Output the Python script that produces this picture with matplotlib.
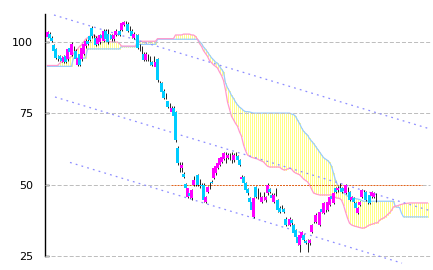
import numpy as np
import matplotlib
matplotlib.use('Agg')
import matplotlib.pyplot as plt

plt.rcParams['lines.scale_dashes'] = False
plt.rcParams['font.family'] = ['DejaVu Sans']

# candles (one per period)
opens = [101.8, 103, 101.5, 99, 97.5, 94.4, 95, 94.5, 93, 95,
         94, 98, 95.5, 97.4, 97, 92, 96, 94, 96, 98.5,
         100.5, 102, 105, 101.9, 101.5, 99.5, 100, 102.5, 100.5, 104,
         103, 101.9, 102.5, 101, 102.5, 103.1, 104, 104.2, 106, 106.4,
         106.5, 104.4, 104, 101.5, 101.9, 102.5, 98.4, 97.4, 96, 93.7,
         94.9, 93.9, 93, 92.9, 91.3, 94, 85.9, 85.6, 83, 80.9,
         79.3, 77.4, 75.5, 77, 75.5, 63, 56.9, 56, 53.8, 50.2,
         45.7, 47, 45.3, 49.9, 50.9, 53.4, 50.4, 50, 50, 43.9,
         47.4, 49.4, 51, 52.3, 54, 55.9, 56.9, 58, 59, 59.9,
         59.4, 60.2, 59.9, 58.5, 60.4, 60, 58.7, 52, 52.7, 50.6,
         48.5, 45.3, 44, 38.7, 49.2, 46.9, 45.9, 44, 46.4, 44.5,
         47, 48.5, 46.5, 44, 47.4, 44.5, 42, 41.9, 41.5, 38,
         36.9, 35.9, 37.5, 35.9, 34, 31.6, 28.9, 31.3, 32.4, 30.2,
         30.4, 29.5, 33.4, 37.4, 36.9, 39.4, 35.9, 41.4, 40, 41.4,
         41.1, 42.9, 46, 43.6, 48.8, 48, 49.4, 48.8, 48.8, 47,
         47.9, 47.4, 44.5, 45.3, 43.6, 40, 42.9, 45.7, 46.4, 47.4,
         44.9, 46.4, 46, 45.7, 45.9]
closes = [103.5, 101.5, 100.5, 97, 94.5, 94.4, 94, 93.5, 94.8, 93,
          97.5, 96.5, 99.5, 97.4, 94, 94.5, 92, 98, 99.5, 100.5,
          99.5, 100.7, 102, 101.9, 99, 101.5, 102.5, 101.5, 104, 101,
          100, 101.9, 101, 102.5, 104, 103.1, 102.5, 106.7, 107, 106.4,
          104, 104.4, 102, 103, 101.9, 98, 98.4, 97.4, 93.7, 96,
          94.9, 93.9, 92, 92.9, 93, 86.7, 85.9, 82.5, 80.5, 80.9,
          77.2, 77.4, 77, 74, 65.5, 57.6, 56.9, 56.8, 52.7, 49,
          48.8, 46, 48.2, 51.6, 50.9, 50, 50.4, 49.5, 44.6, 45.7,
          49.2, 49.4, 50.7, 55.9, 56.5, 57.6, 59.4, 59.7, 61, 59.9,
          60.4, 60.2, 59.9, 60.4, 60.4, 58.7, 56.9, 52.7, 50.6, 48.1,
          47, 44, 41.1, 45.3, 45.7, 46.9, 45.9, 45.7, 46.4, 45.7,
          50, 47.5, 45.5, 46.4, 47.4, 41.2, 40.5, 41.9, 40.5, 36,
          36.9, 38, 36.5, 33, 31.6, 29.5, 32.3, 33.4, 30.6, 29.6,
          30.4, 30.5, 35.9, 37.4, 39.4, 39.4, 40.4, 40.4, 43.6, 41.4,
          43.9, 45.7, 45, 47, 47.4, 48.8, 49.4, 47.4, 47.8, 50,
          47.9, 44.6, 45.7, 43.9, 41.8, 41.8, 43.9, 48.1, 46.4, 44.6,
          44.9, 43.6, 47.5, 47, 45.9]
highs = [104, 103.5, 102, 99.5, 98, 95.5, 95.5, 95, 95.5, 95.5,
         98, 98.5, 100, 98.5, 97.5, 95, 96.5, 98.5, 100, 101,
         101, 102.5, 105.5, 103, 102, 102, 103, 103, 104.5, 104.5,
         104.5, 103, 103, 103, 104.5, 104, 104.5, 107, 107.5, 107.5,
         107, 105.5, 104.5, 103.5, 103, 103, 99.5, 98.5, 96.5, 96.5,
         96, 95, 93.5, 95, 93.5, 94.5, 86.5, 86, 83.5, 82,
         79.5, 78.5, 77.5, 77.5, 76, 63.5, 58, 58, 54.5, 50.5,
         49, 47.5, 48.5, 53, 53, 53.8, 52, 50.5, 50.5, 46,
         49.5, 51, 51.5, 56.2, 57, 58, 59.7, 60, 61.5, 61.5,
         61, 61, 61.3, 61, 61.3, 60.5, 59, 53.5, 53, 51,
         49, 45.7, 44.3, 45.7, 49.5, 49, 47.5, 46, 47.5, 46,
         50.5, 49, 47, 47, 49, 45, 42.5, 43, 42, 38.5,
         38, 38.5, 38, 36.3, 34.5, 32, 32.6, 33.8, 32.8, 30.6,
         31, 31, 36.3, 39, 40, 40.5, 40.8, 41.8, 44, 43,
         44.3, 46, 46.4, 47.4, 49.2, 49.5, 50.5, 49.2, 49.2, 50.4,
         49.2, 47.8, 46, 45.7, 44, 42.2, 44.3, 48.5, 48, 47.8,
         45.8, 46.8, 47.8, 47.4, 47.2]
lows = [101.5, 101, 100, 96.5, 94, 93.5, 93.5, 93, 92.5, 92.5,
        93.5, 96, 95, 96.5, 93.5, 91.5, 91.7, 93.5, 95.5, 98,
        99, 100.5, 101.5, 100.5, 98.5, 99, 99.5, 101, 100, 100.5,
        99.5, 101, 100.5, 100.5, 102, 102.5, 102, 104, 105.5, 105.5,
        103.5, 103.5, 101.5, 101, 100, 97.5, 97, 96, 93.2, 93.2,
        93.5, 92, 91.5, 91.5, 91, 86, 85, 82, 80, 80,
        77, 76.5, 75, 73.5, 65, 57, 54.5, 54.5, 52.3, 48.5,
        45.3, 45.5, 44.8, 49.5, 49.5, 49.5, 49, 49, 44, 43.5,
        47, 48.5, 50.5, 52, 53.5, 55.5, 56.5, 57.5, 58.5, 57.6,
        59, 58.5, 57.6, 58, 59.5, 58.3, 56.5, 51.5, 50.2, 47.8,
        46.5, 43.5, 40.7, 38.3, 45.3, 45, 44.5, 43.5, 44.5, 44,
        46.5, 47, 45, 43.5, 46, 40.5, 40, 41, 40.2, 35.5,
        36, 35.5, 36, 32.5, 31.2, 29, 26.4, 31, 30.2, 29.2,
        26.4, 29, 33, 36.5, 36.5, 38, 35.5, 40, 39.6, 40.5,
        40.7, 42.5, 44.6, 43.2, 47, 47.5, 48.5, 47, 47.4, 46.6,
        46.3, 44.2, 44.2, 43.5, 41.4, 39.6, 42.5, 45.3, 45.3, 44.2,
        43.2, 43.2, 45.5, 45.3, 44]

# cloud spans (26 periods ahead of the last candle)
span_a = [91.8, 91.8, 91.8, 91.8, 91.8, 91.8, 92.5, 93, 93.5, 94,
          94, 94.4, 95, 96, 97, 97.5, 98.5, 99, 100, 101,
          101.5, 102, 102.5, 102.5, 102, 101.8, 101.5, 101.5, 101, 100.5,
          100.5, 100.2, 100, 100, 100, 100, 99.5, 98.6, 98.6, 98.6,
          98.6, 98.6, 98.6, 98.6, 98.6, 100.3, 100.3, 100.3, 100.3, 100.3,
          100.3, 100.3, 100.3, 100.3, 100.3, 101.2, 101.2, 101.2, 101.2, 101.2,
          101.2, 101.2, 101.2, 101.2, 102.5, 102.5, 102.5, 102.5, 102.8, 102.8,
          102.8, 102.8, 102.5, 102.5, 102, 101, 99.5, 98.5, 97, 96,
          95, 93.5, 92.8, 92, 91.5, 90.9, 89.5, 88.3, 86.5, 83.2,
          79, 76.5, 74, 72.8, 71.5, 70.5, 68.5, 67, 64, 62,
          60.4, 60, 59.6, 59.4, 59.2, 59, 58.6, 58.3, 58, 57.2,
          56.5, 56.2, 56.2, 56.2, 56.2, 56.2, 56.2, 55.6, 55.2, 55.2,
          55.5, 55.8, 55.5, 54.6, 54.1, 53.8, 53.5, 52.8, 52, 51.5,
          51, 50, 48.5, 47.1, 46.8, 46.6, 46.4, 46.4, 46.4, 46.4,
          46.4, 46.4, 46.4, 46, 45.5, 45.3, 45.2, 44.6, 42.9, 40.5,
          38.3, 36.5, 35.9, 35.6, 35.4, 35.2, 35, 34.8, 34.8, 35,
          35.5, 35.9, 36.1, 36.3, 36.6, 36.6, 37.5, 38, 38.3, 38.8,
          39.5, 40.1, 41, 42.2, 42.5, 42.6, 42.9, 43.1, 43.3, 43.4,
          43.5, 43.6, 43.6, 43.6, 43.6, 43.6, 43.6, 43.6, 43.6, 43.6,
          43.6]
span_b = [91.5, 91.5, 91.5, 91.5, 91.5, 91.5, 91.5, 91.5, 91.5, 91.5,
          91.5, 91.5, 91.5, 94.4, 94.4, 94.4, 94.4, 94.4, 94.4, 94.4,
          97.6, 97.6, 97.6, 97.6, 97.6, 97.6, 97.6, 97.6, 97.6, 97.6,
          97.6, 97.6, 97.6, 97.6, 97.6, 97.6, 97.6, 98.4, 98.4, 98.4,
          98.4, 98.4, 98.4, 98.4, 98.4, 99.2, 99.2, 99.2, 99.2, 99.2,
          99.2, 99.2, 99.2, 99.2, 99.2, 101, 101, 101, 101, 101,
          101, 101, 101, 101, 101, 101, 101, 101, 101, 101,
          101, 101, 101, 101, 101, 101, 100.2, 99.5, 98.3, 97.5,
          96.5, 95.5, 94.5, 93.8, 93, 92.6, 91.5, 90.5, 89.5, 85.7,
          84, 82.8, 81.3, 80.3, 79, 78, 77.2, 76.7, 76, 75.6,
          75.6, 75.5, 75.3, 75.1, 75.1, 75.1, 75.1, 75.1, 75.1, 75.1,
          75.1, 75.1, 75.1, 75.1, 75.1, 75.1, 75.1, 75.1, 75.1, 75.1,
          75.1, 75.1, 74.8, 74.6, 74, 72.7, 71.5, 70, 68.8, 68,
          67.4, 66.2, 65.3, 64.5, 63.5, 62.5, 61.5, 60.5, 59.5, 59,
          58.5, 57.8, 56.5, 54.1, 51.6, 50, 49, 48.3, 47.1, 46.6,
          46, 45.7, 45.5, 45.3, 45.1, 45, 44.8, 44.5, 44.2, 44.2,
          44.2, 44.2, 44.2, 44.2, 44.2, 44.2, 44.2, 44.2, 44.2, 44.2,
          44.2, 44.2, 44.2, 44.2, 42.2, 42.1, 42, 40, 38.7, 38.7,
          38.7, 38.7, 38.7, 38.7, 38.7, 38.7, 38.7, 38.7, 38.7, 38.7,
          38.7]

# trend channel: (period, price) end points
channel_lines = [[(3.25, 109.5), (191.25, 69.55)],
                 [(3.75, 80.75), (191.25, 40.9)],
                 [(11.25, 57.8), (177.25, 22.5)]]
support_level = 50
support_from, support_to = 61.75, 187.25

yticks = [25, 50, 75, 100]
ylabels = ['25', '50', '75', '100']

UP = '#FF00FF'
DOWN = '#00CCFF'
PX = 0.72  # one pixel in points at 100 dpi

fig = plt.figure(figsize=(4.33, 2.70), dpi=100)
ax = fig.add_axes([45 / 433, 0, 388 / 433, 256 / 270])
ax.set_xlim(-1.25, 192.75)
ax.set_ylim(20.09, 109.85)

# cloud
n = min(len(span_a), len(span_b))
j = np.arange(n)
a = np.array(span_a[:n])
b = np.array(span_b[:n])
ax.vlines(j, np.minimum(a, b), np.maximum(a, b), colors='#FFFF88',
          linewidth=PX, antialiased=False, zorder=1)
ax.plot(j, b, color='#99CCFF', lw=0.9, zorder=2)
ax.plot(j, a, color='#FF99CC', lw=0.9, zorder=2)

# grid
for v in yticks:
    if v == support_level:
        segs = [(-1.25, support_from), (support_to, 191.25)]
    else:
        segs = [(-1.25, 191.25)]
    for x0, x1 in segs:
        ax.plot([x0, x1], [v, v], color='#BEBEBE', lw=PX,
                dashes=(2.9, 1.45), zorder=3)
ax.plot([support_from, support_to], [support_level, support_level],
        color='#E0641E', lw=PX, dashes=(1.45, 0.72), zorder=3)

# channel
for (x0, y0), (x1, y1) in channel_lines:
    ax.plot([x0, x1], [y0, y1], color='#8C8CFF', lw=0.9,
            dashes=(1.3, 3.0), zorder=3)

# candles
o = np.array(opens)
c = np.array(closes)
idx = np.arange(len(o))
ax.vlines(idx, lows, highs, colors='black', linewidth=0.6, zorder=4)
cols = [UP if cc > oo else DOWN for oo, cc in zip(o, c)]
ax.bar(idx, np.abs(c - o), bottom=np.minimum(o, c), width=1.3,
       color=cols, linewidth=0, zorder=5)

for s in ['top', 'right', 'bottom']:
    ax.spines[s].set_visible(False)
ax.spines['left'].set_bounds(25, 109.85)
ax.spines['left'].set_linewidth(1.0)
ax.set_xticks([])
ax.set_yticks(yticks)
ax.set_yticklabels(ylabels)
ax.tick_params(axis='y', direction='in', length=3, width=1.0,
               pad=8.6, labelsize=8)

fig.savefig('out.png', dpi=100)
